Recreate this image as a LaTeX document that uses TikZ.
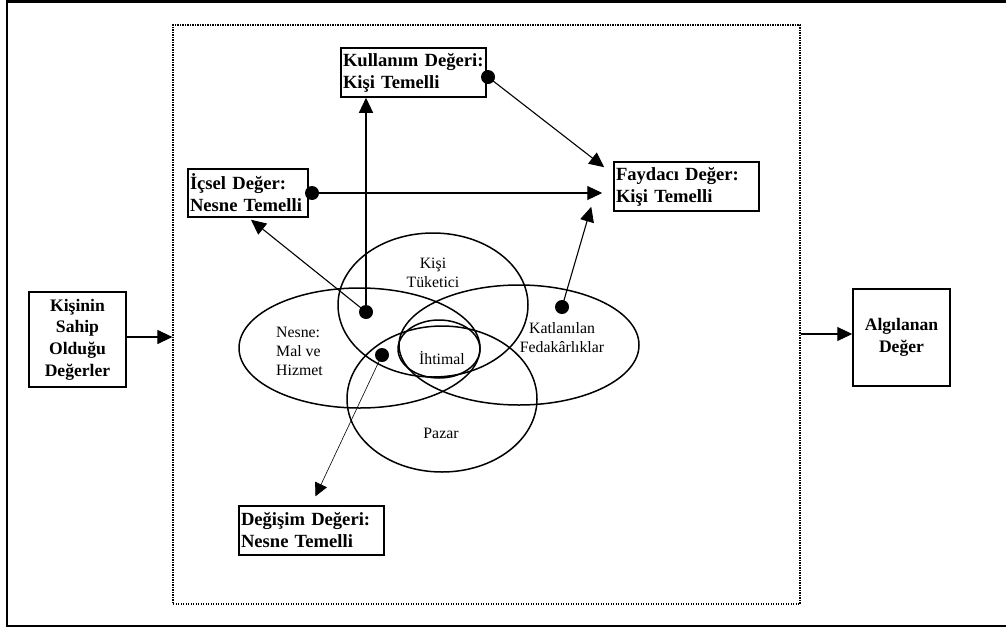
\documentclass[tikz,border=0pt]{standalone}
\usepackage{fontspec}
\setmainfont{Liberation Serif}
\usetikzlibrary{arrows.meta,calc,shapes.geometric}
\begin{document}
\begin{tikzpicture}[x=1pt,y=-1pt,
  boxtext/.style={font=\fontsize{18.6}{22}\selectfont\bfseries},
  vbox/.style={draw, line width=1.5pt, boxtext, align=left, inner xsep=2pt, inner ysep=0pt, minimum height=49pt},
  sbox/.style={draw, line width=1.5pt, font=\fontsize{17.6}{21.7}\selectfont\bfseries, align=center, inner sep=0pt},
  ring/.style={ellipse, draw, line width=1.5pt, inner sep=0pt},
  lab/.style={font=\fontsize{15.8}{19}\selectfont, inner sep=0pt},
  conn/.style={line width=1.1pt, -{Triangle[length=15pt,width=14pt]}},
  dot/.style={circle, fill, inner sep=0pt, minimum size=14pt},
]
\useasboundingbox (0,0) rectangle (1006,629);
% outer frame, open on the right
\draw[line width=2.2pt] (1006,1.5) -- (7,1.5) -- (7,626) -- (1006,626);

% dotted inner frame
\node[draw, dash pattern=on 1.2pt off 1.3pt, line width=1.2pt, inner sep=0pt,
      minimum width=627pt, minimum height=579pt] (frame) at (486.5,314.5) {};

% side boxes
\node[sbox, minimum width=97pt, minimum height=95pt] (kisinin) at (77.5,339.5)
  {Kişinin\\Sahip\\Olduğu\\Değerler};
\node[sbox, minimum width=97pt, minimum height=97pt] (algilanan) at (901.5,337.5)
  {Algılanan\\Değer};

% value boxes
\node[vbox, text width=141pt] (kullanim) at (413.5,72.5) {\mbox{Kullanım Değeri:}\\Kişi Temelli};
\node[vbox, text width=116pt, minimum height=48pt] (icsel) at (248,193) {\mbox{İçsel Değer:}\\\mbox{Nesne Temelli}};
\node[vbox, text width=141pt] (faydaci) at (686.5,186.5) {\mbox{Faydacı Değer:}\\Kişi Temelli};
\node[vbox, text width=141pt] (degisim) at (311.5,530.5) {\mbox{Değişim Değeri:}\\\mbox{Nesne Temelli}};

% overlapping ellipses
\node[ring, minimum width=190pt, minimum height=144pt] (kisi) at (433,305) {};
\node[ring, minimum width=241pt, minimum height=120pt] (nesne) at (359.5,348) {};
\node[ring, minimum width=240pt, minimum height=120pt] (katlanilan) at (519,345) {};
\node[ring, minimum width=190pt, minimum height=146pt] (pazar) at (442,399) {};
\node[ring, minimum width=82pt, minimum height=58pt] (ihtimal) at (439,349) {};

% ellipse labels
\node[lab, align=center] (lkisi) at (433,272.5) {Kişi\\Tüketici};
\node[lab, align=left, anchor=west] (lnesne) at (276,351) {Nesne:\\Mal ve\\Hizmet};
\node[lab] (lihtimal) at (442,358) {İhtimal};
\node[lab, align=center] (lkat) at (562,338) {Katlanılan\\Fedakârlıklar};
\node[lab] (lpazar) at (441,433) {Pazar};

% anchor dots
\node[dot] (dk) at (366,312) {};
\node[dot] (dd) at (382,355) {};
\node[dot] (df) at (562,307) {};
\node[dot] (du) at (488,77) {};
\node[dot] (di) at (312,193) {};

% connectors
\draw[conn] ([yshift=2.5pt]kisinin.east) -- ([yshift=2.5pt]kisinin.east -| frame.west);
\draw[conn] ([yshift=3.5pt]frame.east |- algilanan.west) -- ([yshift=3.5pt]algilanan.west);
\draw[conn] (dk.center) -- (dk.center |- kullanim.south);
\draw[conn] (dk.center) -- ([xshift=3pt,yshift=-2pt]icsel.south);
\draw[conn, shorten >=11pt] (di.center) -- (di.center -| faydaci.west);
\draw[conn] (du.center) -- ([xshift=-9pt,yshift=-6pt]faydaci.north west);
\draw[conn] (df.center) -- ([xshift=-22pt,yshift=5pt]faydaci.south west);
\draw[line width=0.6pt, -{Triangle[length=13pt,width=13pt]}] (dd.center) -- ([xshift=4pt,yshift=9pt]degisim.north);
\end{tikzpicture}
\end{document}
